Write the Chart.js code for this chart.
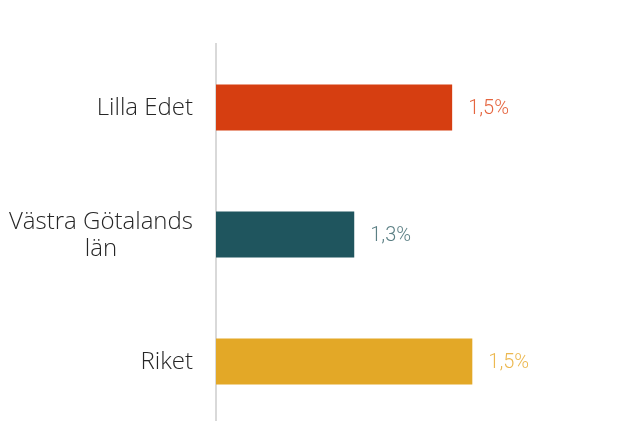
<!DOCTYPE html>
<html>
<head>
<meta charset="utf-8">
<script src="https://cdn.jsdelivr.net/npm/chart.js@4"></script>
<style>
html,body{margin:0;padding:0;background:#fff;overflow:hidden;}
#wrap{position:relative;width:625px;height:425px;}
</style>
</head>
<body>
<div id="wrap"><canvas id="c"></canvas></div>
<script>
const categories = [["Lilla Edet"], ["Västra Götalands", "län"], ["Riket"]];
const values = [1.492, 1.288, 1.534];
const barColors = ["#d63e11", "#1f555e", "#e3a827"];
const labelColors = ["#e5653f", "#5b7f84", "#ecb850"];

const catFont = "300 24px 'Open Sans'";
const valFont = "300 20px Roboto";

const labelPlugin = {
  id: "labels",
  afterDatasetsDraw(chart) {
    const ctx = chart.ctx;
    const meta = chart.getDatasetMeta(0);
    const yScale = chart.scales.y;
    ctx.save();
    ctx.font = valFont;
    ctx.textAlign = "left";
    ctx.textBaseline = "middle";
    meta.data.forEach((bar, i) => {
      ctx.fillStyle = labelColors[i];
      ctx.fillText(values[i].toFixed(1).replace(".", ",") + "%", bar.x + 16, bar.y + 1);
    });
    ctx.font = catFont;
    ctx.fillStyle = "#262626";
    ctx.textAlign = "center";
    const lh = 27;
    categories.forEach((lines, i) => {
      const yc = yScale.getPixelForTick(i);
      const widest = Math.max(...lines.map(l => ctx.measureText(l).width));
      const xr = yScale.right - 23;
      const x = xr - widest / 2;
      lines.forEach((l, j) => {
        ctx.fillText(l, x, yc + (j - (lines.length - 1) / 2) * lh + 1);
      });
    });
    ctx.restore();
  }
};

new Chart(document.getElementById("c"), {
  type: "bar",
  data: {
    labels: categories,
    datasets: [{
      data: values,
      backgroundColor: barColors,
      borderWidth: 0,
      barPercentage: 0.362,
      categoryPercentage: 1
    }]
  },
  options: {
    indexAxis: "y",
    responsive: true,
    maintainAspectRatio: false,
    animation: false,
    events: [],
    layout: { padding: { top: 44, right: 25, bottom: 0, left: 0 } },
    plugins: { legend: { display: false }, tooltip: { enabled: false } },
    scales: {
      x: { display: false, min: 1.0, max: 1.8 },
      y: {
        grid: { display: false, drawTicks: false },
        border: { display: true, color: "#d9d9d9", width: 2 },
        ticks: { display: false },
        afterFit(scale) { scale.width = 216; }
      }
    }
  },
  plugins: [labelPlugin]
});
</script>
</body>
</html>
